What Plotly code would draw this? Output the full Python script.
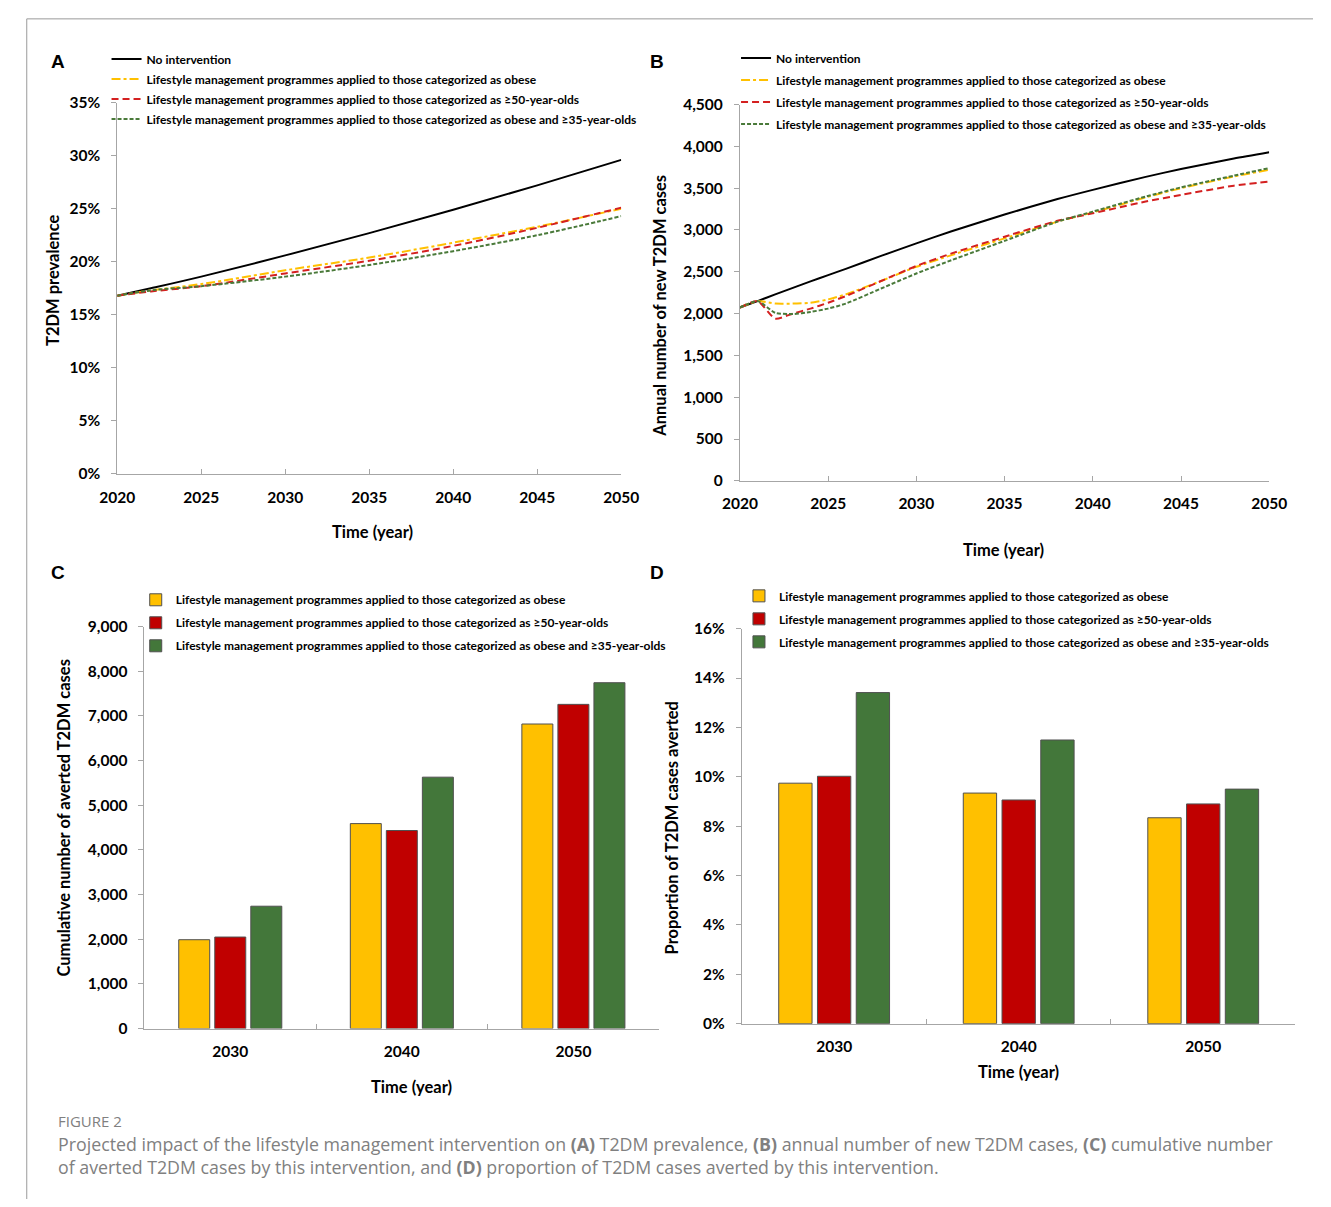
import plotly.graph_objects as go

W, H = 1331, 1207


def px(x):
    return x / W


def py(y):
    return 1 - y / H


# ---------------- data ----------------
s_none = "No intervention"
s_obese = "Lifestyle management programmes applied to those categorized as obese"
s_50 = "Lifestyle management programmes applied to those categorized as ≥50-year-olds"
s_35 = "Lifestyle management programmes applied to those categorized as obese and ≥35-year-olds"

# Panel A: T2DM prevalence
years_a = [2020, 2022, 2025, 2030, 2035, 2040, 2045, 2050]
prev_none = [0.168, 0.175, 0.186, 0.206, 0.227, 0.249, 0.272, 0.296]
prev_obese = [0.168, 0.173, 0.179, 0.192, 0.204, 0.218, 0.233, 0.250]
prev_50 = [0.168, 0.172, 0.177, 0.189, 0.201, 0.215, 0.232, 0.251]
prev_35 = [0.168, 0.173, 0.177, 0.186, 0.197, 0.210, 0.225, 0.243]

# Panel B: annual number of new T2DM cases
years_b = [2020, 2021, 2022, 2023, 2024, 2025, 2026, 2028, 2030, 2032, 2035, 2038, 2040, 2043, 2045, 2048, 2050]
new_none = [2073, 2150, 2230, 2308, 2385, 2460, 2535, 2690, 2840, 2985, 3185, 3370, 3480, 3635, 3730, 3855, 3930]
new_obese = [2073, 2150, 2120, 2120, 2130, 2170, 2230, 2390, 2560, 2700, 2900, 3100, 3210, 3390, 3500, 3640, 3720]
new_50 = [2073, 2150, 1940, 2000, 2060, 2130, 2210, 2390, 2570, 2720, 2920, 3110, 3200, 3340, 3420, 3530, 3580]
new_35 = [2073, 2150, 2010, 1995, 2020, 2060, 2120, 2300, 2480, 2640, 2870, 3100, 3220, 3400, 3510, 3650, 3740]

# Panels C & D
bar_years = ["2030", "2040", "2050"]
averted_obese = [1990, 4590, 6820]
averted_50 = [2050, 4435, 7260]
averted_35 = [2740, 5630, 7745]
prop_obese = [0.0974, 0.0934, 0.0834]
prop_50 = [0.1002, 0.0906, 0.0890]
prop_35 = [0.1341, 0.1149, 0.0950]

# ---------------- styles ----------------
C_YEL = "#FFC000"
C_RED = "#C00000"
C_RED_LINE = "#D42020"
C_GRN = "#43773A"
C_GRN_LINE = "#4A7A3A"
FONT = "Lato"
AXIS_GRAY = "#A6A6A6"
DASH_YEL = "9px,3px,3px,3px"
DASH_RED = "7px,4px"
DASH_GRN = "4px,2px"

fig = go.Figure()

# Panel A lines
for i, (vals, name, col, dash) in enumerate([(prev_none, s_none, "black", "solid"), (prev_obese, s_obese, C_YEL, DASH_YEL),
                                             (prev_50, s_50, C_RED_LINE, DASH_RED), (prev_35, s_35, C_GRN_LINE, DASH_GRN)]):
    fig.add_trace(go.Scatter(x=years_a, y=vals, name=name, mode="lines",
                             line=dict(color=col, width=2, dash=dash, shape="spline"),
                             xaxis="x", yaxis="y", legend="legend", legendgroup=f"a{i}"))

# Panel B lines
for i, (vals, name, col, dash) in enumerate([(new_none, s_none, "black", "solid"), (new_obese, s_obese, C_YEL, DASH_YEL),
                                             (new_50, s_50, C_RED_LINE, DASH_RED), (new_35, s_35, C_GRN_LINE, DASH_GRN)]):
    fig.add_trace(go.Scatter(x=years_b, y=vals, name=name, mode="lines",
                             line=dict(color=col, width=2, dash=dash, shape="spline", smoothing=0.6),
                             xaxis="x2", yaxis="y2", legend="legend2", legendgroup=f"b{i}"))

# Panel C bars
bar_line = dict(color="#505050", width=1)
for i, (vals, name, col) in enumerate([(averted_obese, s_obese, C_YEL), (averted_50, s_50, C_RED), (averted_35, s_35, C_GRN)]):
    fig.add_trace(go.Bar(x=bar_years, y=vals, name=name, marker=dict(color=col, line=bar_line),
                         xaxis="x3", yaxis="y3", legend="legend3", legendgroup=f"c{i}"))
# Panel D bars
for i, (vals, name, col) in enumerate([(prop_obese, s_obese, C_YEL), (prop_50, s_50, C_RED), (prop_35, s_35, C_GRN)]):
    fig.add_trace(go.Bar(x=bar_years, y=vals, name=name, marker=dict(color=col, line=bar_line),
                         xaxis="x4", yaxis="y4", legend="legend4", legendgroup=f"d{i}"))

tick_font = dict(family=FONT, size=15.5, color="black", weight="bold")


def xax(x0, x1, anchor, **kw):
    d = dict(domain=[px(x0), px(x1)], anchor=anchor, showline=True, linecolor=AXIS_GRAY, linewidth=1,
             showgrid=False, zeroline=False, ticks="inside", ticklen=5, tickcolor=AXIS_GRAY,
             tickfont=tick_font, ticklabelstandoff=9, fixedrange=True)
    d.update(kw)
    return d


def yax(y_bottom, y_top, anchor, **kw):
    d = dict(domain=[py(y_bottom), py(y_top)], anchor=anchor, showline=True, linecolor=AXIS_GRAY, linewidth=1,
             showgrid=False, zeroline=False, ticks="outside", ticklen=5, tickcolor=AXIS_GRAY,
             tickfont=tick_font, ticklabelstandoff=8, fixedrange=True)
    d.update(kw)
    return d


def legend_at(x, y, gap):
    return dict(x=px(x), y=py(y), xanchor="left", yanchor="top", bgcolor="rgba(0,0,0,0)", itemwidth=30,
                tracegroupgap=gap, font=dict(family=FONT, size=12, color="black", weight="bold"),
                itemclick=False, itemdoubleclick=False)


fig.update_layout(
    width=W, height=H, margin=dict(l=0, r=0, t=0, b=0),
    paper_bgcolor="white", plot_bgcolor="white",
    barmode="group", bargap=0.37, bargroupgap=0.14,
    xaxis=xax(102, 620, "y", range=[2020, 2050], dtick=5, tick0=2020),
    yaxis=yax(471, 94, "x", range=[0, 0.35], dtick=0.05, tickformat=".0%"),
    xaxis2=xax(742, 1286, "y2", range=[2020, 2050], dtick=5, tick0=2020),
    yaxis2=yax(478, 96, "x2", range=[0, 4500], dtick=500, tickformat=","),
    xaxis3=xax(130, 659, "y3", type="category", tickson="boundaries"),
    yaxis3=yax(1034, 626, "x3", range=[0, 9000], dtick=1000, tickformat=","),
    xaxis4=xax(744, 1313, "y4", type="category", tickson="boundaries"),
    yaxis4=yax(1029, 628, "x4", range=[0, 0.16], dtick=0.02, tickformat=".0%"),
    showlegend=True,
    legend=legend_at(91, 35, 1),
    legend2=legend_at(738, 34, 3),
    legend3=legend_at(121, 584, 4),
    legend4=legend_at(741, 580, 4),
)

ann = []
# panel letters
for lbl, x, y in [("A", 41, 52), ("B", 657, 52), ("C", 41, 571), ("D", 657, 571)]:
    ann.append(dict(text=f"<b>{lbl}</b>", x=px(x), y=py(y), xref="paper", yref="paper", showarrow=False,
                    xanchor="center", yanchor="middle",
                    font=dict(family="Liberation Sans", size=19, color="black")))
# axis titles
title_font = dict(family=FONT, size=16.5, color="black", weight="bold")
for txt, x, y, ang in [("T2DM prevalence", 36, 275, -90), ("Time (year)", 364, 530, 0),
                       ("Annual number of new T2DM cases", 659, 300, -90), ("Time (year)", 1013, 548, 0),
                       ("Cumulative number of averted T2DM cases", 47, 820, -90), ("Time (year)", 404, 1093, 0),
                       ("Proportion of T2DM cases averted", 672, 830, -90), ("Time (year)", 1028, 1078, 0)]:
    ann.append(dict(text=txt, x=px(x), y=py(y), xref="paper", yref="paper", showarrow=False, textangle=ang,
                    xanchor="center", yanchor="middle", font=title_font))
# caption
cap_font = dict(family="Open Sans", size=17.8, color="#808080")
ann.append(dict(text="FIGURE 2", x=px(39), y=py(1128), xref="paper", yref="paper", showarrow=False,
                xanchor="left", yanchor="middle",
                font=dict(family="Open Sans", size=15, color="#808080")))
ann.append(dict(text="Projected impact of the lifestyle management intervention on <b>(A)</b> T2DM prevalence, <b>(B)</b> annual number of new T2DM cases, <b>(C)</b> cumulative number",
                x=px(39), y=py(1151), xref="paper", yref="paper", showarrow=False, xanchor="left", yanchor="middle",
                font=cap_font))
ann.append(dict(text="of averted T2DM cases by this intervention, and <b>(D)</b> proportion of T2DM cases averted by this intervention.",
                x=px(39), y=py(1175), xref="paper", yref="paper", showarrow=False, xanchor="left", yanchor="middle",
                font=cap_font))
fig.update_layout(annotations=ann)

# outer frame
fig.update_layout(shapes=[
    dict(type="line", xref="paper", yref="paper", x0=px(9), x1=px(9), y0=0, y1=py(9), line=dict(color="#9A9A9A", width=1)),
    dict(type="line", xref="paper", yref="paper", x0=px(9), x1=1, y0=py(9), y1=py(9), line=dict(color="#9A9A9A", width=1)),
])

fig.write_html("out.html", config={"displayModeBar": False},
               post_script="document.body.style.margin='0';")
